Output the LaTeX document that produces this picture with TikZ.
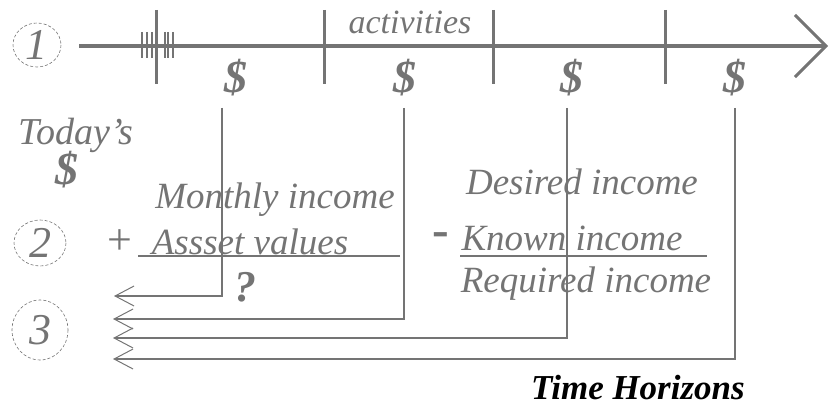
\documentclass[tikz,border=0pt]{standalone}
\usepackage{tikz}
\usepackage{fontspec}
\setmainfont{Liberation Serif}
\usetikzlibrary{arrows.meta,positioning,calc}
\definecolor{inkgray}{HTML}{747474}
\tikzset{
  hand/.style={inkgray, font=\fontsize{37}{38}\selectfont\itshape, inner sep=0pt},
  bignum/.style={hand, font=\fontsize{44}{44}\selectfont\itshape},
  money/.style={hand, font=\fontsize{46}{46}\selectfont\bfseries\itshape},
  ring/.style={draw=inkgray, densely dashed, line width=0.6pt},
  feed/.style={draw=inkgray, line width=1.4pt, -{Straight Barb[length=19pt,width=20pt,line width=1pt]}},
}
\begin{document}
\begin{tikzpicture}[x=1pt,y=-1pt]
	\useasboundingbox (0,0) rectangle (830,414);

	% Timeline
	\draw[inkgray, line width=3.5pt, -{Straight Barb[length=31pt,width=62pt,line width=3pt]}] (79,46) -- (828,46);
	\foreach \tx in {156,324,493,665}
		\draw[inkgray, line width=3pt] (\tx,10) -- (\tx,84);
	\foreach \tx in {142,147,152,165,168,173}
		\draw[inkgray, line width=1.2pt] (\tx,32) -- (\tx,58);
	\node[hand, font=\fontsize{34}{34}\selectfont\itshape] (act) at (410,22) {activities};

	% Step numbers
	\draw[ring] (37,45) ellipse (24 and 22);
	\node[bignum] (one) at (36,45) {1};
	\draw[ring] (40,243) ellipse (26 and 23);
	\node[bignum] (two) at (40,243) {2};
	\draw[ring] (40,330) ellipse (28 and 30);
	\node[bignum] (three) at (40,330) {3};

	% Dollars
	\node[money, anchor=south] (d1) at (236,96) {\$};
	\node[money, anchor=south] (d2) at (405,96) {\$};
	\node[money, anchor=south] (d3) at (572,96) {\$};
	\node[money, anchor=south] (d4) at (735,96) {\$};
	\node[hand, font=\fontsize{38}{38}\selectfont\itshape] (today) at (76,135) {Today's};
	\node[money] (tdol) at (67,170) {\$};

	% Income
	\node[hand] (month) at (275,200) {Monthly income};
	\node[hand, font=\fontsize{44}{44}\selectfont] (plus) at (120,242) {+};
	\node[hand] (asset) at (250,242) {Assset values};
	\draw[inkgray, line width=2pt] (138,256) -- (400,256);
	\node[hand, font=\fontsize{44}{44}\selectfont\bfseries\itshape] (quest) at (245,287) {?};
	\node[hand] (desired) at (582,182) {Desired income};
	\node[hand, font=\fontsize{50}{50}\selectfont\bfseries] (minus) at (441,240) {-};
	\node[hand] (known) at (572,238) {Known income};
	\draw[inkgray, line width=2pt] (460,256) -- (707,256);
	\node[hand] (req) at (586,284) {Required income};

	% Feedback lines
	\coordinate (e1) at (114,296);
	\coordinate (e2) at (113,319);
	\coordinate (e3) at (113,338);
	\coordinate (e4) at (113,359);
	\draw[feed] ([xshift=-14pt,yshift=-12pt]d1.south) |- (e1);
	\draw[inkgray, line width=2.2pt] ([xshift=-14pt,yshift=-12pt]d1.south) -- ++(0,32);
	\draw[feed] ([xshift=-1pt,yshift=-12pt]d2.south) |- (e2);
	\draw[feed] ([xshift=-5pt,yshift=-12pt]d3.south) |- (e3);
	\draw[feed] ([yshift=-12pt]d4.south) |- (e4);

	\node[font=\fontsize{35}{36}\selectfont\bfseries\itshape, inner sep=0pt] (horiz) at (638,388) {Time Horizons};
\end{tikzpicture}
\end{document}
